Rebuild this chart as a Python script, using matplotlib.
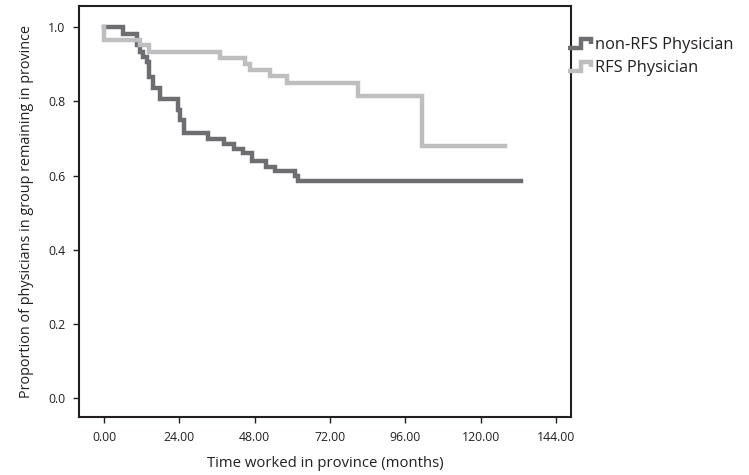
import matplotlib
matplotlib.use("Agg")
import matplotlib.pyplot as plt
from matplotlib.legend_handler import HandlerLine2D
from matplotlib.lines import Line2D

# survival estimates (month, proportion)
non_rfs_t = [0, 6.1, 10.4, 11.5, 12.5, 13.6, 14.4, 15.7, 17.8, 23.4, 24.2, 25.5,
             33.2, 38.3, 41.3, 44.4, 47.0, 51.5, 54.5, 60.8, 61.9, 133.0]
non_rfs_s = [1.0, 0.981, 0.951, 0.934, 0.920, 0.907, 0.866, 0.835, 0.806, 0.776,
             0.749, 0.716, 0.698, 0.685, 0.673, 0.660, 0.640, 0.623, 0.613, 0.598,
             0.585, 0.585]

rfs_t = [0, 0, 11.5, 14.3, 37.0, 45.0, 46.5, 53.0, 58.2, 81.0, 101.2, 127.7]
rfs_s = [1.0, 0.967, 0.951, 0.934, 0.918, 0.902, 0.884, 0.868, 0.850, 0.815,
         0.679, 0.679]

x_ticks = [0, 24, 48, 72, 96, 120, 144]
y_ticks = [0.0, 0.2, 0.4, 0.6, 0.8, 1.0]

dark = "#6d6e71"
light = "#bcbec0"
font = "Open Sans"


class StepHandler(HandlerLine2D):
    def create_artists(self, legend, orig, xd, yd, w, h, fontsize, trans):
        xs = [xd, xd + 0.55 * w, xd + 0.55 * w, xd + w, xd + w]
        ys = [yd + 0.1 * h, yd + 0.1 * h, yd + 0.9 * h, yd + 0.9 * h, yd + 0.45 * h]
        ln = Line2D(xs, ys, color=orig.get_color(), lw=orig.get_linewidth(),
                    solid_joinstyle="miter", solid_capstyle="butt")
        ln.set_transform(trans)
        return [ln]


fig = plt.figure(figsize=(7.49, 4.75), dpi=100)
ax = fig.add_axes([0.1055, 0.122, 0.6565, 0.865])

l1, = ax.plot(non_rfs_t, non_rfs_s, drawstyle="steps-post", color=dark, lw=3.2,
              solid_joinstyle="miter")
l2, = ax.plot(rfs_t, rfs_s, drawstyle="steps-post", color=light, lw=3.2,
              solid_joinstyle="miter")

ax.set_xlim(-8, 148.7)
ax.set_ylim(-0.051, 1.057)
ax.set_xticks(x_ticks)
ax.set_xticklabels([f"{v:.2f}" for v in x_ticks], fontsize=8.8, family=font)
ax.set_yticks(y_ticks)
ax.set_yticklabels([f"{v:.1f}" for v in y_ticks], fontsize=8.8, family=font)
ax.tick_params(direction="out", length=4, width=1, colors="#231f20", pad=6)
for sp in ax.spines.values():
    sp.set_linewidth(1.5)
    sp.set_color("#231f20")

ax.set_xlabel("Time worked in province (months)", fontsize=10.7, family=font,
              color="#231f20", labelpad=9)
ax.set_ylabel("Proportion of physicians in group remaining in province",
              fontsize=10.4, family=font, color="#231f20", labelpad=10)

leg = ax.legend([l1, l2], ["non-RFS Physician", "RFS Physician"],
                loc="upper left", bbox_to_anchor=(0.995, 0.925), frameon=False,
                handler_map={Line2D: StepHandler()}, handlelength=1.4,
                handletextpad=0.25, borderaxespad=0, borderpad=0,
                labelspacing=0.42, prop={"family": font, "size": 11.8})
for t in leg.get_texts():
    t.set_color("#231f20")

fig.savefig("out.png", dpi=100)
